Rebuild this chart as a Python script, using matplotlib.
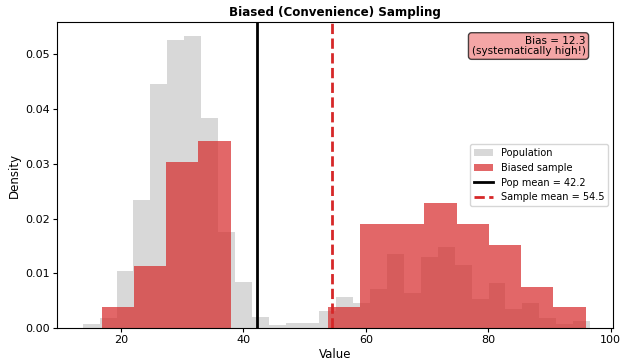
import numpy as np
import matplotlib
matplotlib.use("Agg")
import matplotlib.pyplot as plt

# Population histogram (30 bins, density values)
pop_edges_start = 13.8
pop_edges_stop = 96.6
pop_density = [0.0007, 0.0018, 0.0105, 0.0233, 0.0446, 0.0525, 0.0533, 0.0383,
               0.0175, 0.0084, 0.0021, 0.0006, 0.0010, 0.0010, 0.0031, 0.0057,
               0.0046, 0.0072, 0.0135, 0.0064, 0.0130, 0.0149, 0.0116, 0.0054,
               0.0083, 0.0036, 0.0047, 0.0018, 0.0007, 0.0013]

# Biased sample histogram (15 bins, counts)
samp_edges_start = 16.9
samp_edges_stop = 95.9
samp_counts = [1, 3, 8, 9, 0, 0, 0, 1, 5, 5, 6, 5, 4, 2, 1]

pop_mean = 42.2
sample_mean = 54.5
bias = 12.3

pop_edges = np.linspace(pop_edges_start, pop_edges_stop, len(pop_density) + 1)
samp_edges = np.linspace(samp_edges_start, samp_edges_stop, len(samp_counts) + 1)
pop_centers = (pop_edges[:-1] + pop_edges[1:]) / 2
samp_centers = (samp_edges[:-1] + samp_edges[1:]) / 2

fig = plt.figure(figsize=(6.24, 3.62), dpi=100)
ax = fig.add_axes([0.0913, 0.0931, 0.8915, 0.846])

ax.hist(pop_centers, bins=pop_edges, weights=pop_density, color='gray', alpha=0.3,
        label='Population')
ax.hist(samp_centers, bins=samp_edges, weights=samp_counts, density=True,
        color='tab:red', alpha=0.7, label='Biased sample')
ax.axvline(pop_mean, color='black', lw=2, label=f'Pop mean = {pop_mean}')
ax.axvline(sample_mean, color='tab:red', lw=2, ls='--', label=f'Sample mean = {sample_mean}')

ax.text(0.95, 0.955, f'Bias = {bias}\n(systematically high!)', transform=ax.transAxes,
        ha='right', va='top', fontsize=7.5, linespacing=1.05,
        bbox=dict(boxstyle='round,pad=0.3', facecolor='lightcoral', alpha=0.7))

ax.set_xlim(9.6, 100.4)
ax.set_ylim(0, 0.0558)
ax.set_xlabel('Value', fontsize=8.5, labelpad=2)
ax.set_ylabel('Density', fontsize=8.5, labelpad=3)
ax.set_title('Biased (Convenience) Sampling', fontsize=8.6, fontweight='bold', pad=4)
ax.tick_params(labelsize=8, length=3, pad=2)
ax.legend(loc='center right', fontsize=7, handlelength=2.0)

fig.savefig('out.png', dpi=100)
